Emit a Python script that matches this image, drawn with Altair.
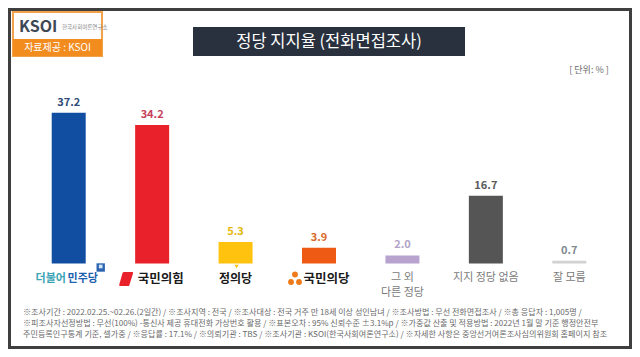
import altair as alt
import pandas as pd

# ---- data ----
parties = ["더불어민주당", "국민의힘", "정의당", "국민의당", "그 외 다른 정당", "지지 정당 없음", "잘 모름"]
values = [37.2, 34.2, 5.3, 3.9, 2.0, 16.7, 0.7]
value_labels = ["37.2", "34.2", "5.3", "3.9", "2.0", "16.7", "0.7"]
bar_colors = ["#114ea2", "#e8212b", "#ffc20f", "#ee5a14", "#b8a3cf", "#555555", "#d2d2d2"]
value_colors = ["#2e4d78", "#c6405a", "#e6b80a", "#d9692a", "#b3a3c8", "#5a5a5a", "#808a90"]

gray_line1 = ["", "", "", "", "그 외", "지지 정당 없음", "잘 모름"]
gray_line2 = ["", "", "", "", "다른 정당", "", ""]

title_text = "정당 지지율 (전화면접조사)"
unit_text = "[ 단위: % ]"
source_text = "자료제공 : KSOI"
footnotes = [
    "※조사기간 : 2022.02.25.~02.26.(2일간) / ※조사지역 : 전국 / ※조사대상 : 전국 거주 만 18세 이상 성인남녀 / ※조사방법 : 무선 전화면접조사 / ※총 응답자 : 1,005명 /",
    "※피조사자선정방법 : 무선(100%) -통신사 제공 휴대전화 가상번호 활용 / ※표본오차 : 95% 신뢰수준 ±3.1%p / ※가중값 산출 및 적용방법 : 2022년 1월 말 기준 행정안전부",
    "주민등록인구통계 기준, 셀가중 / ※응답률 : 17.1% / ※의뢰기관 : TBS / ※조사기관 : KSOI(한국사회여론연구소) / ※자세한 사항은 중앙선거여론조사심의위원회 홈페이지 참조",
]

df = pd.DataFrame({
    "party": parties,
    "value": values,
    "vlabel": value_labels,
    "bar_color": bar_colors,
    "val_color": value_colors,
    "g1": gray_line1,
    "g2": gray_line2,
})
one = pd.DataFrame({"a": [0]})

FONT = "Noto Sans CJK KR"
W, H = 624, 341
BASE = 255.5

xscale = alt.Scale(domain=parties, range=[19, 603], paddingInner=0.5925, paddingOuter=0.29625)
yscale = alt.Scale(domain=[0, 40], range=[BASE, BASE - 162], nice=False, zero=True)


def X(axis=None):
    if axis is None:
        return alt.X("party:N", scale=xscale, axis=None, sort=None)
    return alt.X("party:N", scale=xscale, axis=axis, sort=None)


def rect(x, x2, y, y2, **kw):
    return alt.Chart(one).mark_rect(**kw).encode(
        x=alt.value(x), x2=alt.value(x2), y=alt.value(y), y2=alt.value(y2))


def txt(s, x, y, **kw):
    return alt.Chart(one).mark_text(text=s, font=FONT, **kw).encode(x=alt.value(x), y=alt.value(y))


base = alt.Chart(df)

# frame
frame = rect(1.5, 622.5, 1.5, 339.5, fill="white", stroke="#3f3f3f", strokeWidth=3)

# logo
logo_box = rect(5, 94, 4, 48, fill="#fdfdfd", stroke="#f2a24a", strokeWidth=2)
logo_band = rect(5, 94, 31, 48, fill="#f28c1f")
logo_k = txt("KSOI", 11, 19, align="left", baseline="middle", fontSize=16, fontWeight="bold", color="#3e4754")
logo_small = txt("한국사회여론연구소", 54, 19, align="left", baseline="middle", fontSize=5.5, color="#8a8a8a")
logo_src = txt(source_text, 49.5, 40, align="center", baseline="middle", fontSize=10, color="white")

# title
title_box = rect(185, 457, 19, 48, fill="#28313d")
title = txt(title_text, 321, 34, align="center", baseline="middle", fontSize=16.5, color="white")
unit = txt(unit_text, 581, 62, align="center", baseline="middle", fontSize=9, color="#6a6a6a")

# bars + axis
bars = base.mark_bar().encode(
    x=X(alt.Axis(orient="bottom", offset=-(H - BASE), labels=False, title=None,
                 domainColor="#b0b0b0", tickColor="#b0b0b0", tickSize=3, tickBand="extent",
                 domainWidth=1, tickWidth=1, grid=False)),
    y=alt.Y("value:Q", scale=yscale, axis=None),
    y2=alt.value(BASE),
    color=alt.Color("bar_color:N", scale=None),
)

vals = base.mark_text(font=FONT, fontSize=11, fontWeight="bold", baseline="bottom", dy=-5).encode(
    x=X(), y=alt.Y("value:Q", scale=yscale, axis=None),
    text="vlabel:N", color=alt.Color("val_color:N", scale=None))

LY = 271


def plabel(party, s, dx, color, size=12.5, weight="bold"):
    return base.transform_filter(alt.datum.party == party).mark_text(
        text=s, font=FONT, fontSize=size, fontWeight=weight, color=color, dx=dx,
        baseline="middle", align="center").encode(x=X(), y=alt.value(LY))


def only(party):
    return base.transform_filter(alt.datum.party == party)


lab_d1 = plabel("더불어민주당", "더불어", -18, "#3aa3b5", size=11)
lab_d2 = plabel("더불어민주당", "민주당", 14, "#1f5fb0", size=11)
logo_d = only("더불어민주당").mark_square(
    size=70, color="#2a62b0", xOffset=32, opacity=1).encode(x=X(), y=alt.value(259.5))
logo_d2 = only("더불어민주당").mark_square(
    size=14, color="#cfe3f5", xOffset=32, opacity=1).encode(x=X(), y=alt.value(258.5))

lab_p = plabel("국민의힘", "국민의힘", 8.5, "#1a1a1a")
logo_p = only("국민의힘").mark_point(
    shape="M-0.3,-1 L0.9,-1 Q1.05,-1 0.95,-0.7 L0.45,0.88 Q0.4,1 0.25,1 L-0.9,1 Q-1.05,1 -0.95,0.7 L-0.5,-0.88 Q-0.45,-1 -0.3,-1 Z",
    size=200, filled=True, color="#e8212b", opacity=1, xOffset=-26).encode(x=X(), y=alt.value(LY))

lab_j = plabel("정의당", "정의당", 0, "#1a1a1a", size=12)
logo_j = only("정의당").mark_point(
    shape="triangle-down", size=18, filled=True, color="#ffc20f", opacity=1, xOffset=1).encode(
    x=X(), y=alt.value(258.5))

lab_k = plabel("국민의당", "국민의당", 7.5, "#1a1a1a")
tre = []
for ddx, yy in [(-24, 266.5), (-28, 274), (-20, 274)]:
    tre.append(only("국민의당").mark_circle(
        size=34, color="#ef7a1a", opacity=1, xOffset=ddx).encode(x=X(), y=alt.value(yy)))

gray1 = base.transform_filter(alt.datum.g1 != "").mark_text(
    font=FONT, fontSize=11, color="#7a7a7a", baseline="middle").encode(
    x=X(), y=alt.value(LY - 1), text="g1:N")
gray2 = base.transform_filter(alt.datum.g2 != "").mark_text(
    font=FONT, fontSize=11, color="#7a7a7a", baseline="middle").encode(
    x=X(), y=alt.value(LY + 14), text="g2:N")

foot = [txt(s, 15, y, align="left", baseline="middle", fontSize=8.1, color="#6a6a6a")
        for s, y in zip(footnotes, [305, 316, 327])]

chart = alt.layer(
    frame, logo_box, logo_band, logo_k, logo_small, logo_src, title_box, title, unit,
    bars, vals, lab_d1, lab_d2, logo_d, logo_d2, lab_p, logo_p, lab_j, logo_j, lab_k, *tre,
    gray1, gray2, *foot
).properties(
    width=W, height=H, autosize=alt.AutoSizeParams(type="none"), padding=0
).configure_view(stroke=None)

chart.save("out.html", embed_options={"renderer": "svg", "actions": False})
